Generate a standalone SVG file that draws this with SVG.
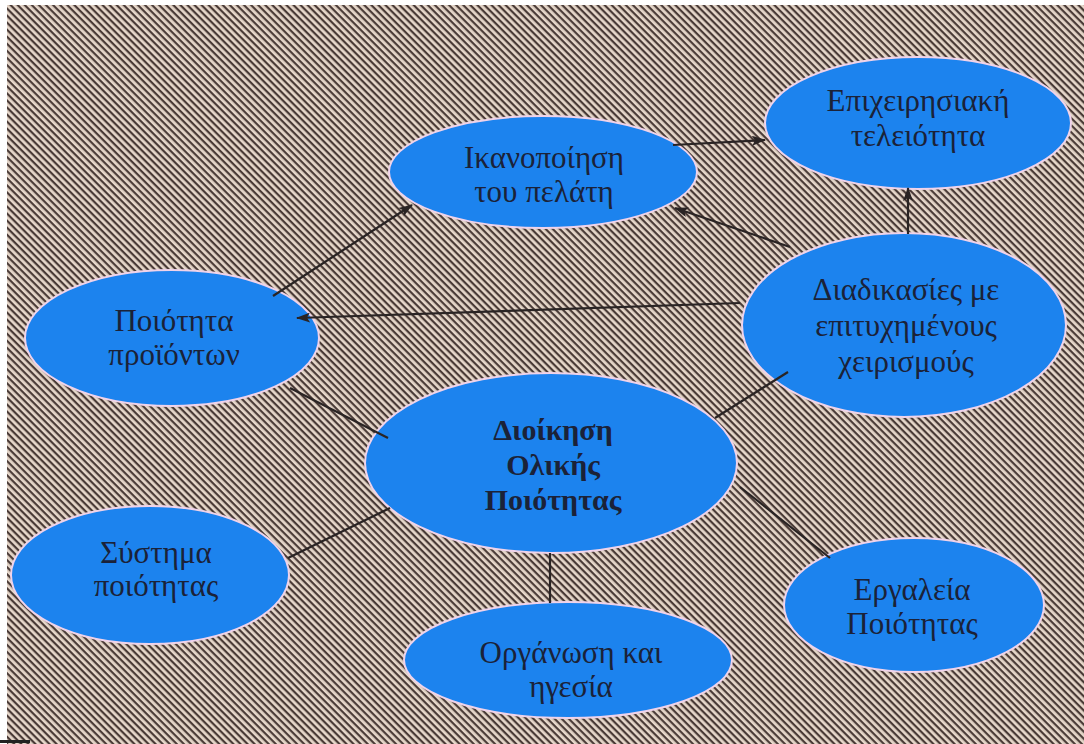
<svg xmlns="http://www.w3.org/2000/svg" width="1084" height="744" viewBox="0 0 1084 744">
<defs>
<pattern id="stripes" width="5" height="5" patternUnits="userSpaceOnUse" patternTransform="rotate(45)">
<rect x="0" y="0" width="5" height="5" fill="#e6d7ca"/>
<rect x="0" y="0" width="5" height="2.2" fill="#4a3b37"/>
</pattern>
<marker id="arr" viewBox="0 0 14 10" refX="13" refY="5" markerWidth="15" markerHeight="10" markerUnits="userSpaceOnUse" orient="auto">
<path d="M0,0 L14,5 L0,10 L3,5 Z" fill="#2a2424"/>
</marker>
</defs>
<style>
.node ellipse{fill:#1c83ee;stroke:#efd3ea;stroke-width:2}
.node text{font-family:"Liberation Serif","DejaVu Serif",serif;font-size:31px;fill:#1b2238;text-anchor:middle}
.node text.b{font-weight:bold;font-size:30px}
#connectors line{stroke:#2a2424;stroke-width:2.2;fill:none}
#connectors line.a{marker-end:url(#arr)}
</style>
<rect x="0" y="0" width="1084" height="744" fill="#ffffff"/>
<rect x="7" y="5" width="1077" height="739" fill="url(#stripes)"/>
<rect x="0" y="740" width="30" height="3" fill="#222"/>

<g id="n1" class="node">
<ellipse cx="543" cy="172" rx="154" ry="56"/>
<text x="544" y="168">Ικανοποίηση</text>
<text x="544" y="202">του πελάτη</text>
</g>
<g id="n2" class="node">
<ellipse cx="918" cy="123" rx="153" ry="66"/>
<text x="918" y="111">Επιχειρησιακή</text>
<text x="918" y="146">τελειότητα</text>
</g>
<g id="n3" class="node">
<ellipse cx="172" cy="338" rx="147" ry="68"/>
<text x="174" y="331">Ποιότητα</text>
<text x="174" y="365">προϊόντων</text>
</g>
<g id="n4" class="node">
<ellipse cx="904" cy="325" rx="162" ry="92"/>
<text x="906" y="300">Διαδικασίες με</text>
<text x="906" y="336">επιτυχημένους</text>
<text x="906" y="372">χειρισμούς</text>
</g>
<g id="n5" class="node">
<ellipse cx="551" cy="463" rx="186" ry="90"/>
<text class="b" x="553" y="440">Διοίκηση</text>
<text class="b" x="553" y="475">Ολικής</text>
<text class="b" x="553" y="510">Ποιότητας</text>
</g>
<g id="n6" class="node">
<ellipse cx="150" cy="575" rx="139" ry="69"/>
<text x="156" y="563">Σύστημα</text>
<text x="156" y="596">ποιότητας</text>
</g>
<g id="n7" class="node">
<ellipse cx="568" cy="660" rx="164" ry="58"/>
<text x="571" y="663">Οργάνωση και</text>
<text x="571" y="697">ηγεσία</text>
</g>
<g id="n8" class="node">
<ellipse cx="914" cy="605" rx="130" ry="67"/>
<text x="912" y="600">Εργαλεία</text>
<text x="912" y="634">Ποιότητας</text>
</g>

<g id="connectors">
<line class="a" x1="673" y1="145" x2="765" y2="140"/>
<line class="a" x1="273" y1="296" x2="412" y2="205"/>
<line class="a" x1="790" y1="247" x2="675" y2="208"/>
<line class="a" x1="740" y1="303" x2="297" y2="318"/>
<line class="a" x1="908" y1="234" x2="908" y2="188"/>
<line x1="290" y1="388" x2="388" y2="438"/>
<line x1="715" y1="418" x2="788" y2="372"/>
<line x1="288" y1="558" x2="390" y2="508"/>
<line x1="550" y1="553" x2="550" y2="603"/>
<line x1="740" y1="487" x2="830" y2="558"/>
</g>
</svg>
